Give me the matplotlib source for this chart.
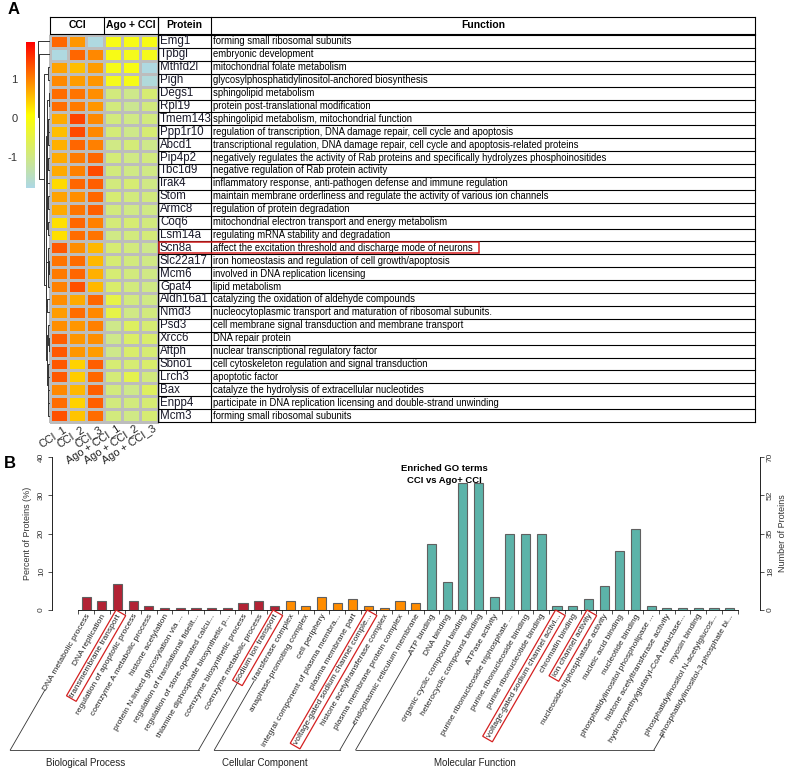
import numpy as np
import matplotlib.pyplot as plt
from matplotlib.colors import LinearSegmentedColormap, Normalize
from matplotlib.textpath import TextPath
from matplotlib.font_manager import FontProperties
from matplotlib.patches import Rectangle

plt.rcParams['font.family'] = ['Liberation Sans', 'DejaVu Sans']

# ---------------- data: panel A ----------------
samples = ["CCI_1", "CCI_2", "CCI_3", "Ago + CCI_1", "Ago + CCI_2", "Ago + CCI_3"]
proteins = ["Emg1", "Tpbgl", "Mthfd2l", "Pigh", "Degs1", "Rpl19", "Tmem143", "Ppp1r10",
            "Abcd1", "Pip4p2", "Tbc1d9", "Irak4", "Stom", "Armc8", "Coq6", "Lsm14a",
            "Scn8a", "Slc22a17", "Mcm6", "Gpat4", "Aldh16a1", "Nmd3", "Psd3", "Xrcc6",
            "Aftph", "Sbno1", "Lrch3", "Bax", "Enpp4", "Mcm3"]
functions = [
    "forming small ribosomal subunits",
    "embryonic development",
    "mitochondrial folate metabolism",
    "glycosylphosphatidylinositol-anchored biosynthesis",
    "sphingolipid metabolism",
    "protein post-translational modification",
    "sphingolipid metabolism, mitochondrial function",
    "regulation of transcription, DNA damage repair, cell cycle and apoptosis",
    "transcriptional regulation, DNA damage repair, cell cycle and apoptosis-related proteins",
    "negatively regulates the activity of Rab proteins and specifically hydrolyzes phosphoinositides",
    "negative regulation of Rab protein activity",
    "inflammatory response, anti-pathogen defense and immune regulation",
    "maintain membrane orderliness and regulate the activity of various ion channels",
    "regulation of protein degradation",
    "mitochondrial electron transport and energy metabolism",
    "regulating mRNA stability and degradation",
    "affect the excitation threshold and discharge mode of neurons",
    "iron homeostasis and regulation of cell growth/apoptosis",
    "involved in DNA replication licensing",
    "lipid metabolism",
    "catalyzing the oxidation of aldehyde compounds",
    "nucleocytoplasmic transport and maturation of ribosomal subunits.",
    "cell membrane signal transduction and membrane transport",
    "DNA repair protein",
    "nuclear transcriptional regulatory factor",
    "cell cytoskeleton regulation and signal transduction",
    "apoptotic factor",
    "catalyze the hydrolysis of extracellular nucleotides",
    "participate in DNA replication licensing and double-strand unwinding",
    "forming small ribosomal subunits",
]
zscores = np.array([
    [1.20, 0.85, -1.75, -0.10, -0.10, -0.10],
    [-1.75, 1.20, 0.95, -0.10, -0.15, -0.15],
    [0.75, 0.55, 0.80, -0.12, -0.08, -1.75],
    [0.95, 0.80, 0.85, -0.15, -0.12, -1.70],
    [1.15, 1.10, 0.90, -0.95, -1.05, -0.85],
    [1.15, 1.05, 0.85, -0.95, -1.10, -0.95],
    [0.70, 1.45, 0.95, -0.95, -1.00, -0.95],
    [0.55, 1.40, 0.95, -0.90, -1.05, -0.85],
    [0.65, 1.20, 1.00, -1.00, -0.90, -1.05],
    [0.70, 1.05, 1.20, -0.90, -1.00, -0.95],
    [0.70, 1.00, 1.40, -0.95, -1.00, -1.00],
    [0.35, 1.20, 1.25, -0.95, -0.85, -1.00],
    [0.75, 0.90, 1.20, -0.85, -0.95, -0.95],
    [0.70, 1.10, 1.25, -0.95, -1.00, -1.00],
    [0.30, 1.20, 1.00, -0.90, -0.85, -0.95],
    [0.30, 1.15, 1.10, -1.00, -0.95, -0.90],
    [1.30, 0.90, 0.60, -0.85, -0.95, -1.05],
    [1.10, 1.15, 0.60, -0.85, -0.95, -1.00],
    [1.05, 1.20, 0.65, -0.85, -0.95, -1.00],
    [1.00, 1.35, 0.60, -0.80, -0.95, -1.00],
    [0.90, 0.70, 1.20, -0.50, -0.95, -1.00],
    [0.80, 1.15, 0.95, -0.50, -1.00, -0.95],
    [0.90, 0.85, 1.00, -1.05, -0.70, -0.85],
    [1.25, 0.85, 0.90, -1.05, -0.75, -0.80],
    [1.30, 0.85, 0.80, -1.05, -0.80, -0.85],
    [1.30, 0.40, 1.25, -0.85, -0.85, -0.80],
    [1.30, 0.45, 1.20, -0.90, -0.55, -0.95],
    [0.95, 0.60, 1.25, -0.95, -1.05, -0.70],
    [1.15, 0.40, 1.25, -0.95, -0.95, -0.85],
    [1.35, 0.50, 1.15, -0.95, -1.00, -0.85],
])
highlight_protein = "Scn8a"

# ---------------- data: panel B ----------------
bp_terms = ["DNA metabolic process", "DNA replication", "transmembrane transport",
            "regulation of apoptotic process", "coenzyme A metabolic process",
            "histone acetylation", "protein N-linked glycosylation via ...",
            "regulation of translational fidelit...", "regulation of store-operated calcu...",
            "thiamine diphosphate biosynthetic p...", "coenzyme biosynthetic process",
            "coenzyme metabolic process", "sodium ion transport"]
bp_counts = [6, 4, 12, 4, 2, 1, 1, 1, 1, 1, 3, 4, 2]
cc_terms = ["transferase complex", "anaphase-promoting complex", "cell periphery",
            "integral component of plasma membra...", "plasma membrane part",
            "voltage-gated sodium channel comple...", "histone acetyltransferase complex",
            "plasma membrane protein complex", "endoplasmic reticulum membrane"]
cc_counts = [4, 2, 6, 3, 5, 2, 1, 4, 3]
mf_terms = ["ATP binding", "DNA binding", "organic cyclic compound binding",
            "heterocyclic compound binding", "ATPase activity",
            "purine ribonucleoside triphosphate ...", "purine ribonucleoside binding",
            "purine ribonucleotide binding", "voltage-gated sodium channel activi...",
            "chromatin binding", "ion channel activity", "nucleoside-triphosphatase activity",
            "nucleic acid binding", "nucleotide binding", "phosphatidylinositol phospholipase ...",
            "histone acetyltransferase activity", "hydroxymethylglutaryl-CoA reductase...",
            "myosin binding", "phosphatidylinositol N-acetylglucos...",
            "phosphatidylinositol-3-phosphate bi..."]
mf_counts = [30, 13, 58, 58, 6, 35, 35, 35, 2, 2, 5, 11, 27, 37, 2, 1, 1, 1, 1, 1]
total_proteins = 175
boxed_terms = ["transmembrane transport", "sodium ion transport",
               "voltage-gated sodium channel comple...",
               "voltage-gated sodium channel activi...", "ion channel activity"]
groups = ["Biological Process", "Cellular Component", "Molecular Function"]
group_colors = ["#B22234", "#FF8C00", "#5CB3A9"]

# ---------------- figure ----------------
W, H = 787, 768
fig = plt.figure(figsize=(W / 100, H / 100), dpi=100)
ov = fig.add_axes([0, 0, 1, 1])
ov.set_xlim(0, W)
ov.set_ylim(H, 0)
ov.axis('off')

ov.text(8, 10, "A", fontsize=12, fontweight='bold', va='center')
ov.text(4, 463, "B", fontsize=12, fontweight='bold', va='center')

# heatmap
cmap = LinearSegmentedColormap.from_list("lby", ["#ADD8E6", "#FFFF00", "#FF0000"])
norm = Normalize(vmin=-1.8, vmax=1.95)
hx0, cw = 50, 18
hy0, rh = 35, 12.9
nrow, ncol = zscores.shape
xe = hx0 + cw * np.arange(ncol + 1)
ye = hy0 + rh * np.arange(nrow + 1)
ov.pcolormesh(xe, ye, zscores, cmap=cmap, norm=norm, edgecolors='#BDBDBD', linewidth=0.8)

for j, s in enumerate(samples):
    ov.text(xe[j] + cw / 2 + 4, ye[-1] + 2, s, rotation=33, ha='right', va='top',
            rotation_mode='anchor', fontsize=7.8, color='#222222')

# dendrogram (order preserving average linkage)
clusters = [[i] for i in range(nrow)]
pos = list(ye[:-1] + rh / 2)
hts = [0.0] * nrow
merges = []
while len(clusters) > 1:
    best = None
    for k in range(len(clusters) - 1):
        d = np.mean([np.linalg.norm(zscores[i] - zscores[j])
                     for i in clusters[k] for j in clusters[k + 1]])
        if best is None or d < best[0]:
            best = (d, k)
    d, k = best
    d = max(d, hts[k], hts[k + 1])
    merges.append((pos[k], pos[k + 1], hts[k], hts[k + 1], d))
    clusters[k:k + 2] = [clusters[k] + clusters[k + 1]]
    pos[k:k + 2] = [(pos[k] + pos[k + 1]) / 2]
    hts[k:k + 2] = [d]
hmax = merges[-1][4]
dx_right, dwidth = hx0 - 1, 11
for ya, yb, ha_, hb_, h in merges:
    xa = dx_right - dwidth * ha_ / hmax
    xb = dx_right - dwidth * hb_ / hmax
    xh = dx_right - dwidth * h / hmax
    ov.plot([xa, xh, xh, xb], [ya, ya, yb, yb], color='#333333', lw=0.7)

# colorbar
cax = fig.add_axes([26 / W, 1 - 188 / H, 9 / W, 146 / H])
grad = np.linspace(norm.vmin, norm.vmax, 256)[:, None]
cax.imshow(grad, cmap=cmap, norm=norm, aspect='auto', origin='lower',
           extent=[0, 1, norm.vmin, norm.vmax])
cax.set_xticks([])
cax.set_yticks([-1, 0, 1])
cax.set_yticklabels(["-1", "0", "1"], fontsize=8, color='#333333')
cax.tick_params(axis='y', length=0, pad=6)
for sp in cax.spines.values():
    sp.set_visible(False)

# table
px0, fx0, fx1 = xe[-1], 211, 755
hy_top = 17
lw = 0.8
ov.plot([hx0, fx1], [hy_top, hy_top], color='black', lw=lw)
ov.plot([hx0, fx1], [hy0 - 1, hy0 - 1], color='black', lw=lw)
for xv in [hx0, hx0 + 3 * cw, px0]:
    ov.plot([xv, xv], [hy_top, hy0 - 1], color='black', lw=lw)
for xv in [px0, fx0, fx1]:
    ov.plot([xv, xv], [hy_top, ye[-1]], color='black', lw=lw)
for yv in ye:
    ov.plot([px0, fx1], [yv, yv], color='black', lw=lw)
hyc = (hy_top + hy0 - 1) / 2
for xc, t in [(hx0 + 1.5 * cw, "CCI"), (hx0 + 4.5 * cw, "Ago + CCI"),
              ((px0 + fx0) / 2, "Protein"), ((fx0 + fx1) / 2, "Function")]:
    ov.text(xc, hyc, t, ha='center', va='center', fontsize=7.5, fontweight='bold')
ffs = 6.85
for i, (p, f) in enumerate(zip(proteins, functions)):
    yc = ye[i] + rh / 2
    ov.text(px0 + 2, yc, p, ha='left', va='center', fontsize=8.3, color='#1a1a2a')
    ov.text(fx0 + 2, yc, f, ha='left', va='center', fontsize=ffs)
    if p == highlight_protein:
        fw = TextPath((0, 0), f, size=ffs,
                      prop=FontProperties(family='Liberation Sans')).get_extents().width * 100 / 72
        ov.add_patch(Rectangle((px0 + 1, ye[i] + 1), fx0 + 8 + fw - px0, rh - 2,
                               fill=False, ec='#D42020', lw=1.1, zorder=5))

# ---------------- panel B: bar chart ----------------
terms = bp_terms + cc_terms + mf_terms
counts = np.array(bp_counts + cc_counts + mf_counts)
sizes = [len(bp_terms), len(cc_terms), len(mf_terms)]
colors = sum([[c] * n for c, n in zip(group_colors, sizes)], [])
percent = counts / total_proteins * 100
idx = np.arange(len(terms))

ax = fig.add_axes([52 / W, 1 - 610 / H, 708 / W, 153 / H])
ax.patch.set_alpha(0)
ax.bar(idx, percent, width=0.58, color=colors, edgecolor='#606060', linewidth=0.8)
ax.set_xlim(-2.17, 42.93)
ax.set_ylim(0, 40)
ax.set_yticks([0, 10, 20, 30, 40])
ax.tick_params(axis='y', labelsize=6, labelrotation=90, length=3, width=0.6,
               colors='#333333', pad=2)
for lab in ax.get_yticklabels():
    lab.set_va('center')
ax.set_ylabel("Percent of Proteins (%)", fontsize=6.5, color='#333333', labelpad=4)
ax.set_xticks(np.arange(len(terms) + 1) - 0.5)
ax.set_xticklabels([])
ax.tick_params(axis='x', length=3, width=0.6, colors='#333333')
for s in ['top', 'right']:
    ax.spines[s].set_visible(False)
ax.spines['bottom'].set_bounds(-0.5, len(terms) - 0.5)
ax.spines['left'].set_linewidth(0.6)
ax.spines['bottom'].set_linewidth(0.6)
ax.text(0.554, 0.928, "Enriched GO terms", transform=ax.transAxes,
        ha='center', va='center', fontsize=6.8, fontweight='bold')
ax.text(0.554, 0.845, "CCI vs Ago+ CCI", transform=ax.transAxes,
        ha='center', va='center', fontsize=6.8, fontweight='bold')

ax2 = ax.twinx()
ax2.set_ylim(0, total_proteins * 0.4)
ax2.set_yticks([0, 17.5, 35, 52.5, 70])
ax2.set_yticklabels(["0", "18", "35", "52", "70"])
ax2.tick_params(axis='y', labelsize=6, labelrotation=90, length=3, width=0.6,
                colors='#333333', pad=2)
for lab in ax2.get_yticklabels():
    lab.set_va('center')
ax2.set_ylabel("Number of Proteins", fontsize=6.5, color='#333333', labelpad=3)
for s in ['top', 'left', 'bottom']:
    ax2.spines[s].set_visible(False)
ax2.spines['right'].set_linewidth(0.6)

# rotated term labels with group brackets
angle = 60
fs = 6
prop = FontProperties(family='Liberation Sans', size=fs)
ca, sa = np.cos(np.radians(angle)), np.sin(np.radians(angle))
base_y = 750
starts = []
for i, t in enumerate(terms):
    box = dict(boxstyle='square,pad=0.25', fc='none', ec='#D42020', lw=0.9) if t in boxed_terms else None
    ax.text(i + 0.15, -0.03, t, transform=ax.get_xaxis_transform(), rotation=angle,
            ha='right', va='center', rotation_mode='anchor', fontsize=fs,
            color='#222222', bbox=box, clip_on=False)
    ax_disp = ax.get_xaxis_transform().transform((i + 0.15, -0.03))
    L = TextPath((0, 0), t, size=fs, prop=prop).get_extents().width * 100 / 72 + 2
    sx, sy = ax_disp[0] - L * ca, ax_disp[1] - L * sa
    starts.append((sx, H - sy))

first = 0
for g, n in zip(groups, sizes):
    xs = []
    for k in [first, first + n - 1]:
        sx, sy = starts[k]
        ex = sx - (base_y - sy) / np.tan(np.radians(angle))
        ov.plot([sx, ex], [sy, base_y], color='#333333', lw=0.6)
        xs.append(ex)
    ov.plot(xs, [base_y, base_y], color='#333333', lw=0.6)
    ov.text(xs[0] + 0.4 * (xs[1] - xs[0]), 763, g, ha='center', va='center',
            fontsize=7, color='#222222')
    first += n

fig.savefig("out.png", dpi=100)
